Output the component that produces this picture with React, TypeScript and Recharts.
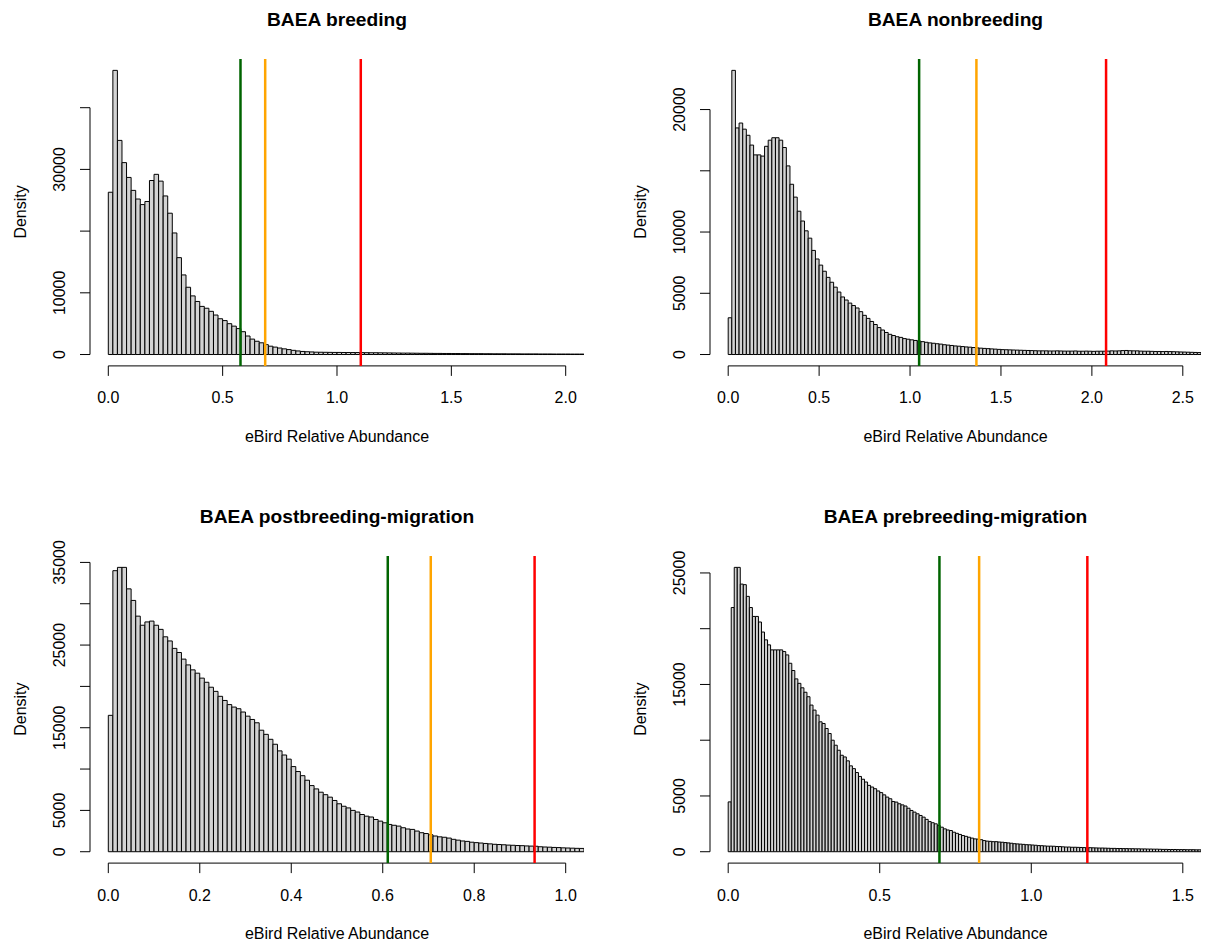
import React from 'react'
import { BarChart, Bar, XAxis, YAxis, ReferenceLine } from 'recharts'

// histogram densities per bin, in thousands
const breedingDensity = [
  26.3, 46.05, 34.7, 31.1, 28.7, 26.6, 25.2, 24.3, 24.8, 28.2,
  29.2, 28.1, 25.7, 22.9, 19.7, 15.7, 12.9, 10.9, 9.5, 8.6,
  7.8, 7.5, 7.0, 6.4, 5.8, 5.5, 5.0, 4.6, 4.2, 3.7,
  3.0, 2.5, 2.15, 1.9, 1.6, 1.35, 1.2, 1.05, 0.92, 0.8,
  0.68, 0.58, 0.5, 0.45, 0.42, 0.38, 0.37, 0.36, 0.35, 0.34,
  0.34, 0.33, 0.33, 0.32, 0.32, 0.31, 0.3, 0.29, 0.29, 0.28,
  0.27, 0.26, 0.25, 0.24, 0.23, 0.23, 0.22, 0.21, 0.2, 0.2,
  0.19, 0.18, 0.18, 0.17, 0.17, 0.16, 0.16, 0.15, 0.15, 0.14,
  0.14, 0.14, 0.13, 0.13, 0.12, 0.12, 0.12, 0.11, 0.11, 0.11,
  0.1, 0.1, 0.1, 0.1, 0.09, 0.09, 0.09, 0.08, 0.08, 0.08,
  0.08, 0.07, 0.07, 0.07,
]

const nonbreedingDensity = [
  3.0, 23.2, 18.5, 18.9, 18.4, 17.9, 17.1, 16.3, 16.3, 16.2,
  17.0, 17.5, 17.7, 17.7, 17.5, 16.9, 15.4, 13.9, 12.85, 11.7,
  10.9, 10.1, 9.5, 8.5, 7.8, 7.3, 6.8, 6.3, 5.9, 5.5,
  5.1, 4.7, 4.45, 4.2, 4.0, 3.8, 3.5, 3.2, 2.95, 2.7,
  2.45, 2.2, 2.0, 1.8, 1.65, 1.55, 1.45, 1.4, 1.3, 1.25,
  1.2, 1.15, 1.1, 1.05, 1.0, 0.95, 0.92, 0.88, 0.85, 0.8,
  0.77, 0.74, 0.7, 0.68, 0.65, 0.62, 0.6, 0.57, 0.54, 0.52,
  0.5, 0.48, 0.46, 0.44, 0.42, 0.4, 0.39, 0.38, 0.37, 0.36,
  0.35, 0.34, 0.33, 0.32, 0.31, 0.3, 0.3, 0.3, 0.29, 0.29,
  0.3, 0.29, 0.28, 0.28, 0.28, 0.29, 0.27, 0.27, 0.28, 0.27,
  0.26, 0.27, 0.27, 0.27, 0.28, 0.3, 0.29, 0.3, 0.32, 0.33,
  0.31, 0.3, 0.3, 0.28, 0.27, 0.27, 0.26, 0.25, 0.25, 0.24,
  0.25, 0.24, 0.23, 0.22, 0.21, 0.2, 0.19, 0.18, 0.17, 0.16,
]

const postbreedingDensity = [
  16.5, 34.0, 34.4, 34.4, 31.8, 30.4, 28.5, 27.4, 27.8, 27.9,
  27.4, 26.9, 26.0, 25.5, 24.6, 24.1, 23.3, 22.6, 22.0, 21.6,
  21.0, 20.5, 19.9, 19.4, 18.8, 18.3, 17.8, 17.5, 17.3, 16.9,
  16.4, 16.0, 15.6, 14.7, 14.2, 13.6, 13.0, 12.2, 11.7, 11.2,
  10.3, 9.7, 9.2, 8.65, 8.0, 7.6, 7.2, 6.9, 6.6, 6.2,
  5.8, 5.5, 5.3, 5.0, 4.8, 4.5, 4.3, 4.2, 3.9, 3.7,
  3.5, 3.3, 3.2, 3.1, 2.9, 2.75, 2.7, 2.5, 2.3, 2.2,
  2.05, 1.9, 1.8, 1.75, 1.65, 1.5, 1.4, 1.3, 1.25, 1.15,
  1.1, 1.05, 1.0, 0.95, 0.9, 0.87, 0.84, 0.8, 0.78, 0.75,
  0.73, 0.7, 0.68, 0.66, 0.6, 0.57, 0.55, 0.52, 0.5, 0.47,
  0.45, 0.43, 0.41, 0.4,
]

const prebreedingDensity = [
  4.47, 21.9, 25.5, 25.5, 24.0, 23.95, 22.9, 21.9, 21.1, 21.1,
  20.6, 19.7, 19.0, 18.55, 18.1, 18.1, 18.1, 18.1, 17.95, 17.65,
  16.9, 16.25, 15.5, 15.1, 14.7, 14.3, 13.9, 13.15, 12.7, 12.25,
  11.65, 11.5, 11.05, 10.6, 10.0, 9.55, 9.1, 8.65, 8.5, 8.15,
  7.7, 7.45, 7.1, 6.75, 6.5, 6.25, 5.95, 5.8, 5.65, 5.45,
  5.3, 5.1, 4.9, 4.75, 4.5, 4.45, 4.3, 4.2, 4.1, 3.9,
  3.7, 3.55, 3.4, 3.25, 3.1, 2.9, 2.7, 2.6, 2.5, 2.35,
  2.2, 2.05, 1.95, 1.9, 1.75, 1.65, 1.55, 1.45, 1.38, 1.3,
  1.22, 1.15, 1.13, 1.08, 1.0, 0.95, 0.93, 0.9, 0.9, 0.87, 0.85,
  0.82, 0.79, 0.76, 0.72, 0.7, 0.68, 0.66, 0.63, 0.62, 0.6,
  0.58, 0.55, 0.54, 0.52, 0.5, 0.5, 0.49, 0.47, 0.46, 0.44,
  0.42, 0.42, 0.4, 0.4, 0.39, 0.38, 0.37, 0.36, 0.36, 0.35,
  0.34, 0.33, 0.33, 0.32, 0.31, 0.3, 0.3, 0.29, 0.29, 0.28,
  0.28, 0.27, 0.27, 0.26, 0.26, 0.25, 0.25, 0.24, 0.24, 0.23,
  0.23, 0.22, 0.21, 0.21, 0.2, 0.2, 0.2, 0.19, 0.19, 0.19,
  0.18, 0.18, 0.18, 0.17, 0.17,
]

const binWidths = [0.02, 0.02, 0.01, 0.01]
const titles = ['BAEA breeding', 'BAEA nonbreeding', 'BAEA postbreeding-migration', 'BAEA prebreeding-migration']

const breedingXTicks = [0, 0.5, 1, 1.5, 2]
const nonbreedingXTicks = [0, 0.5, 1, 1.5, 2, 2.5]
const postbreedingXTicks = [0, 0.2, 0.4, 0.6, 0.8, 1]
const prebreedingXTicks = [0, 0.5, 1, 1.5]

const breedingYTicks = [0, 10000, 20000, 30000, 40000]
const nonbreedingYTicks = [0, 5000, 10000, 15000, 20000]
const postbreedingYTicks = [0, 5000, 10000, 15000, 20000, 25000, 30000, 35000]
const prebreedingYTicks = [0, 5000, 10000, 15000, 20000, 25000]

// R drops labels that would overlap, only these are printed
const breedingYLabels = [0, 10000, 30000]
const nonbreedingYLabels = [0, 5000, 10000, 20000]
const postbreedingYLabels = [0, 5000, 15000, 25000, 35000]
const prebreedingYLabels = [0, 5000, 15000, 25000]

// thresholds (green, orange, red)
const breedingCuts = [0.578, 0.686, 1.104]
const nonbreedingCuts = [1.05, 1.365, 2.078]
const postbreedingCuts = [0.611, 0.705, 0.932]
const prebreedingCuts = [0.697, 0.828, 1.185]
const cutColors = ['#006400', '#FFA500', '#FF0000']

const xLabel = 'eBird Relative Abundance'
const yLabel = 'Density'

// plot regions in page pixels
const boxes = [
  { left: 90, top: 58.5, right: 584, bottom: 365.4 },
  { left: 710, top: 58.5, right: 1201, bottom: 365.4 },
  { left: 90, top: 555.6, right: 584, bottom: 862.7 },
  { left: 710, top: 555.6, right: 1201, bottom: 862.7 },
]

const panels = [
  { values: breedingDensity, xTicks: breedingXTicks, yTicks: breedingYTicks, yLabels: breedingYLabels, cuts: breedingCuts },
  { values: nonbreedingDensity, xTicks: nonbreedingXTicks, yTicks: nonbreedingYTicks, yLabels: nonbreedingYLabels, cuts: nonbreedingCuts },
  { values: postbreedingDensity, xTicks: postbreedingXTicks, yTicks: postbreedingYTicks, yLabels: postbreedingYLabels, cuts: postbreedingCuts },
  { values: prebreedingDensity, xTicks: prebreedingXTicks, yTicks: prebreedingYTicks, yLabels: prebreedingYLabels, cuts: prebreedingCuts },
]

const FONT = '"Liberation Sans", Arial, Helvetica, sans-serif'
const ML = 70, MT = 40, MR = 10, MB = 50

function Histogram({ idx }: { idx: number }) {
  const p = panels[idx]
  const box = boxes[idx]
  const bin = binWidths[idx]
  const rows = p.values.map((v, i) => ({ mid: (i + 0.5) * bin, density: v * 1000 }))

  const xMax = p.xTicks[p.xTicks.length - 1]
  const xDomain = [-xMax * 0.04, xMax * 1.04]
  const yMax = Math.max(...rows.map(r => r.density))
  const yDomain = [-yMax * 0.04, yMax * 1.04]
  const plotW = box.right - box.left
  const plotH = box.bottom - box.top
  const barPx = plotW * bin / (xDomain[1] - xDomain[0]) - 0.05
  const yTop = p.yTicks[p.yTicks.length - 1]

  const xTick = (props: any) => (
    <text x={props.x} y={props.y + 11.5} textAnchor="middle" fontSize={16} fill="#000" fontFamily={FONT}>
      {Number(props.payload.value).toFixed(1)}
    </text>
  )
  const yTick = (props: any) => {
    const v = props.payload.value
    if (!p.yLabels.includes(v)) return <g />
    return (
      <text x={props.x} y={props.y} transform={`rotate(-90 ${props.x} ${props.y})`} textAnchor="middle"
        fontSize={16} fill="#000" fontFamily={FONT}>
        {String(v)}
      </text>
    )
  }

  return (
    <div style={{ position: 'absolute', left: box.left - ML, top: box.top - MT }}>
      <BarChart width={plotW + ML + MR} height={plotH + MT + MB} data={rows}
        margin={{ top: MT, right: MR, bottom: 0, left: ML - 60 }} barGap={0} barCategoryGap={0}>
        <XAxis type="number" dataKey="mid" domain={xDomain} ticks={p.xTicks} interval={0} allowDataOverflow
          height={MB} tickSize={10} tickMargin={16} axisLine={false} tickLine={{ stroke: '#000' }} tick={xTick} />
        <YAxis type="number" domain={yDomain} ticks={p.yTicks} interval={0} allowDataOverflow
          width={60} tickSize={10} tickMargin={15} axisLine={false} tickLine={{ stroke: '#000' }} tick={yTick} />
        <Bar dataKey="density" fill="#D3D3D3" stroke="#000" strokeWidth={1} barSize={barPx} isAnimationActive={false} />
        <ReferenceLine segment={[{ x: 0, y: yDomain[0] }, { x: xMax, y: yDomain[0] }]} stroke="#000" ifOverflow="visible" />
        <ReferenceLine segment={[{ x: xDomain[0], y: 0 }, { x: xDomain[0], y: yTop }]} stroke="#000" ifOverflow="visible" />
        {p.cuts.map((c, i) => (
          <ReferenceLine key={i} x={c} stroke={cutColors[i]} strokeWidth={2.5} ifOverflow="visible" />
        ))}
      </BarChart>
    </div>
  )
}

export default function App() {
  return (
    <div style={{ position: 'absolute', left: 0, top: 0, width: 1206, height: 949, overflow: 'hidden', background: '#fff', fontFamily: FONT }}>
      {panels.map((_, i) => <Histogram key={i} idx={i} />)}
      <svg width={1206} height={949} style={{ position: 'absolute', left: 0, top: 0, pointerEvents: 'none' }}>
        {boxes.map((b, i) => {
          const cx = (b.left + b.right) / 2
          const cy = (b.top + b.bottom) / 2
          const lx = b.left - 63.5
          return (
            <g key={i} fontFamily={FONT} fill="#000">
              <text x={cx} y={b.top - 32.6} textAnchor="middle" fontSize={19.2} fontWeight="bold">{titles[i]}</text>
              <text x={cx} y={b.bottom + 76.2} textAnchor="middle" fontSize={16}>{xLabel}</text>
              <text x={lx} y={cy} transform={`rotate(-90 ${lx} ${cy})`} textAnchor="middle" fontSize={16}>{yLabel}</text>
            </g>
          )
        })}
      </svg>
    </div>
  )
}
